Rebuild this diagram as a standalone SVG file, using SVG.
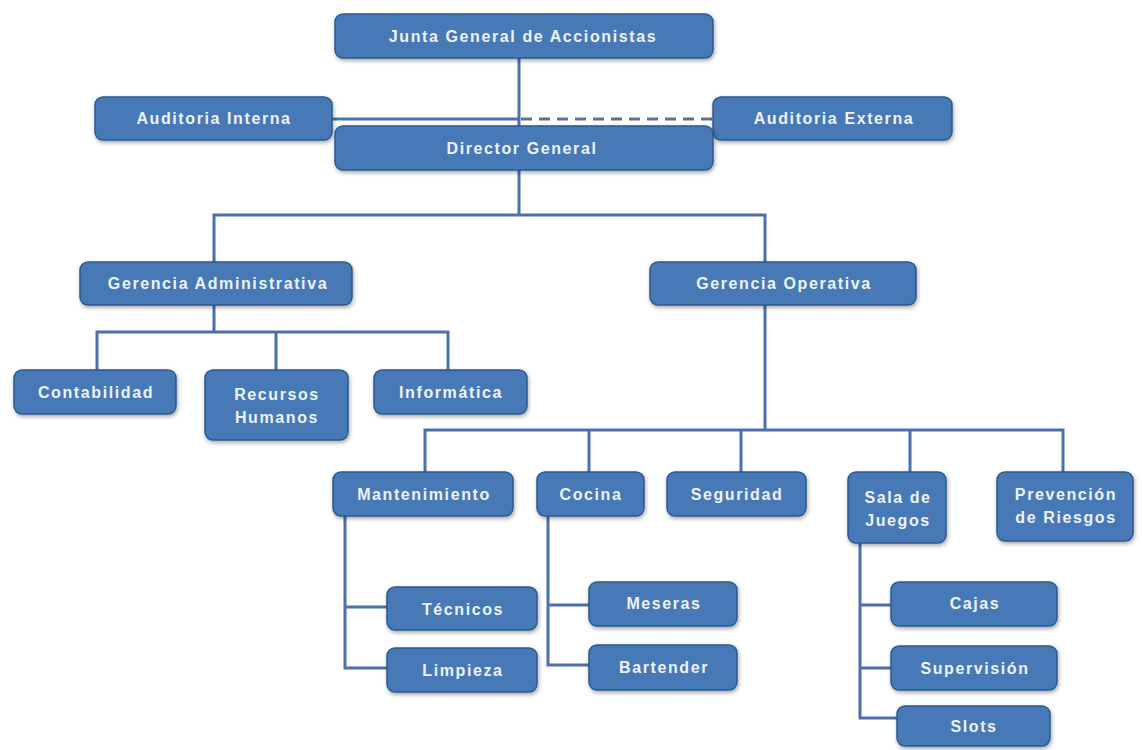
<svg xmlns="http://www.w3.org/2000/svg" width="1142" height="750" viewBox="0 0 1142 750">
<defs>
<filter id="sh" x="-10%" y="-20%" width="120%" height="150%"><feDropShadow dx="1" dy="2" stdDev="1.5" flood-color="#000" flood-opacity="0.35"/></filter>
<style>
.b{fill:#4679b7;stroke:#2d5a8e;stroke-width:1.5;filter:url(#sh)}
.t{font-family:"Liberation Sans",Arial,sans-serif;font-weight:bold;font-size:16px;fill:#eef3fa;text-anchor:middle;letter-spacing:1.6px}
.c{stroke:#4a70ad;stroke-width:3;fill:none}
.d{stroke:#5f7291;stroke-width:3;fill:none;stroke-dasharray:11 7}
</style>
</defs>
<rect width="1142" height="750" fill="#fff"/>
<g id="connectors">
<path class="c" d="M519 58V126"/>
<path class="c" d="M332 119H519"/>
<path class="d" d="M521 119H713"/>
<path class="c" d="M519 170V215M214 262V215H765V262"/>
<path class="c" d="M214 305V332M97 370V332H448V370M276 332V370"/>
<path class="c" d="M765 305V430M425 472V430H1063V472M589 430V472M741 430V472M910 430V472"/>
<path class="c" d="M345 516V668H387M345 607H387"/>
<path class="c" d="M548 516V665H589M548 605H589"/>
<path class="c" d="M860 543V718H897M860 605H891M860 668H891"/>
</g>
<g id="junta"><rect class="b" x="335" y="14" width="378" height="44" rx="8"/><text class="t" x="523" y="42">Junta General de Accionistas</text></g>
<g id="aud-int"><rect class="b" x="95" y="97" width="237" height="43" rx="8"/><text class="t" x="214" y="124">Auditoria Interna</text></g>
<g id="aud-ext"><rect class="b" x="713" y="97" width="239" height="43" rx="8"/><text class="t" x="834" y="124">Auditoria Externa</text></g>
<g id="director"><rect class="b" x="335" y="126" width="378" height="44" rx="8"/><text class="t" x="522" y="154">Director General</text></g>
<g id="ger-adm"><rect class="b" x="80" y="262" width="272" height="43" rx="8"/><text class="t" x="218" y="289">Gerencia Administrativa</text></g>
<g id="ger-op"><rect class="b" x="650" y="262" width="266" height="43" rx="8"/><text class="t" x="784" y="289">Gerencia Operativa</text></g>
<g id="contabilidad"><rect class="b" x="14" y="370" width="162" height="44" rx="8"/><text class="t" x="96" y="398">Contabilidad</text></g>
<g id="rrhh"><rect class="b" x="205" y="370" width="143" height="70" rx="8"/><text class="t" x="277" y="400">Recursos</text><text class="t" x="277" y="423">Humanos</text></g>
<g id="informatica"><rect class="b" x="374" y="370" width="153" height="44" rx="8"/><text class="t" x="451" y="398">Informática</text></g>
<g id="mantenimiento"><rect class="b" x="333" y="472" width="180" height="44" rx="8"/><text class="t" x="424" y="500">Mantenimiento</text></g>
<g id="cocina"><rect class="b" x="537" y="472" width="107" height="44" rx="8"/><text class="t" x="591" y="500">Cocina</text></g>
<g id="seguridad"><rect class="b" x="667" y="472" width="139" height="44" rx="8"/><text class="t" x="737" y="500">Seguridad</text></g>
<g id="sala"><rect class="b" x="848" y="472" width="98" height="71" rx="8"/><text class="t" x="898" y="503">Sala de</text><text class="t" x="898" y="526">Juegos</text></g>
<g id="prevencion"><rect class="b" x="997" y="472" width="136" height="69" rx="8"/><text class="t" x="1066" y="500">Prevención</text><text class="t" x="1066" y="523">de Riesgos</text></g>
<g id="tecnicos"><rect class="b" x="387" y="587" width="150" height="43" rx="8"/><text class="t" x="463" y="615">Técnicos</text></g>
<g id="limpieza"><rect class="b" x="387" y="648" width="150" height="44" rx="8"/><text class="t" x="463" y="676">Limpieza</text></g>
<g id="meseras"><rect class="b" x="589" y="582" width="148" height="44" rx="8"/><text class="t" x="664" y="609">Meseras</text></g>
<g id="bartender"><rect class="b" x="589" y="645" width="148" height="45" rx="8"/><text class="t" x="664" y="673">Bartender</text></g>
<g id="cajas"><rect class="b" x="891" y="582" width="166" height="44" rx="8"/><text class="t" x="975" y="609">Cajas</text></g>
<g id="supervision"><rect class="b" x="891" y="646" width="166" height="44" rx="8"/><text class="t" x="975" y="674">Supervisión</text></g>
<g id="slots"><rect class="b" x="897" y="706" width="153" height="40" rx="8"/><text class="t" x="974" y="732">Slots</text></g>
</svg>
